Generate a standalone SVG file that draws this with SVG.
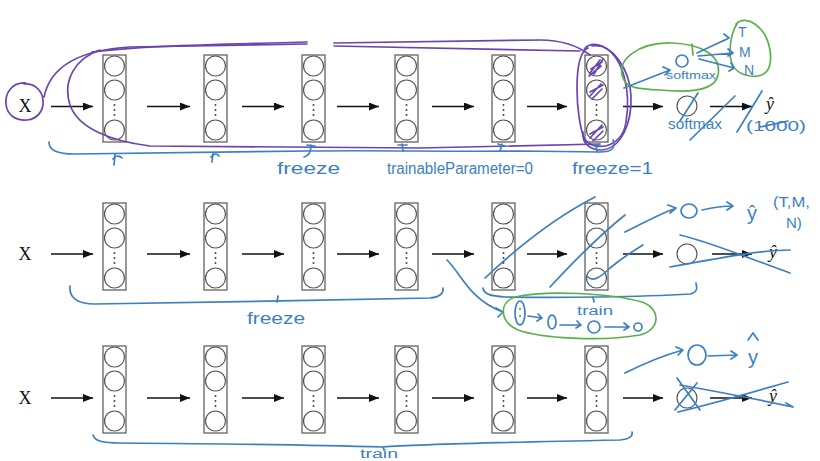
<svg xmlns="http://www.w3.org/2000/svg" xmlns:xlink="http://www.w3.org/1999/xlink" width="820" height="461" viewBox="0 0 820 461">
<style>
  .box{fill:none;stroke:#555;stroke-width:1.2}
  .neu{fill:#fff;stroke:#555;stroke-width:1.2}
  .dot{fill:#444}
  .arr{stroke:#111;stroke-width:1.6;fill:none}
  .lbl{font-family:"Liberation Serif",serif;font-size:18px;fill:#111}
  .yhat{font-family:"Liberation Serif",serif;font-style:italic;font-size:18px;fill:#111}
  .ink{fill:none;stroke-linecap:round;stroke-linejoin:round;stroke-width:1.7}
  .blue{stroke:#3d7fc2}
  .purple{stroke:#6a45b0}
  .green{stroke:#5bb04c}
  .hand{font-family:"Liberation Sans",sans-serif;fill:#3d7fc2}
</style>
<defs>
  <marker id="head" viewBox="0 0 10 8" refX="10" refY="4" markerWidth="10" markerHeight="8" markerUnits="userSpaceOnUse" orient="auto">
    <path d="M0,0 L10,4 L0,8 z" fill="#111"/>
  </marker>
  <g id="layer">
    <rect class="box" x="0" y="0" width="23" height="87"/>
    <circle class="neu" cx="11.5" cy="11" r="10"/>
    <circle class="neu" cx="11.5" cy="35" r="10"/>
    <circle class="neu" cx="11.5" cy="75" r="10"/>
    <circle class="dot" cx="11.5" cy="50" r="1"/>
    <circle class="dot" cx="11.5" cy="55" r="1"/>
    <circle class="dot" cx="11.5" cy="60" r="1"/>
  </g>
</defs>
<rect width="820" height="461" fill="#fff"/>

<!-- row 1 : network -->
<g id="r1-x"><text class="lbl" x="25" y="112" text-anchor="middle">X</text></g>
<g id="r1-l1"><use xlink:href="#layer" x="103" y="55"/></g>
<g id="r1-l2"><use xlink:href="#layer" x="204" y="55"/></g>
<g id="r1-l3"><use xlink:href="#layer" x="302" y="55"/></g>
<g id="r1-l4"><use xlink:href="#layer" x="395" y="55"/></g>
<g id="r1-l5"><use xlink:href="#layer" x="492" y="55"/></g>
<g id="r1-l6"><use xlink:href="#layer" x="585" y="55"/></g>
<g id="r1-out"><circle class="neu" cx="687" cy="106" r="10"/></g>
<g id="r1-yhat"><text class="yhat" x="770" y="110" text-anchor="middle">ŷ</text></g>

<!-- row 2 : network -->
<g id="r2-x"><text class="lbl" x="25" y="260" text-anchor="middle">X</text></g>
<g id="r2-l1"><use xlink:href="#layer" x="103" y="203"/></g>
<g id="r2-l2"><use xlink:href="#layer" x="204" y="203"/></g>
<g id="r2-l3"><use xlink:href="#layer" x="302" y="203"/></g>
<g id="r2-l4"><use xlink:href="#layer" x="395" y="203"/></g>
<g id="r2-l5"><use xlink:href="#layer" x="492" y="203"/></g>
<g id="r2-l6"><use xlink:href="#layer" x="585" y="203"/></g>
<g id="r2-out"><circle class="neu" cx="687" cy="254" r="10"/></g>
<g id="r2-yhat"><text class="yhat" x="773" y="258" text-anchor="middle">ŷ</text></g>

<!-- row 3 : network -->
<g id="r3-x"><text class="lbl" x="25" y="404" text-anchor="middle">X</text></g>
<g id="r3-l1"><use xlink:href="#layer" x="103" y="346"/></g>
<g id="r3-l2"><use xlink:href="#layer" x="204" y="346"/></g>
<g id="r3-l3"><use xlink:href="#layer" x="302" y="346"/></g>
<g id="r3-l4"><use xlink:href="#layer" x="395" y="346"/></g>
<g id="r3-l5"><use xlink:href="#layer" x="492" y="346"/></g>
<g id="r3-l6"><use xlink:href="#layer" x="585" y="346"/></g>
<g id="r3-out"><circle class="neu" cx="687" cy="398" r="10"/></g>
<g id="r3-yhat"><text class="yhat" x="773" y="402" text-anchor="middle">ŷ</text></g>

<!-- forward connectors -->
<g id="connectors">
  <path class="arr" marker-end="url(#head)" d="M51,106.5H93"/>
  <path class="arr" marker-end="url(#head)" d="M147,106.5H190"/>
  <path class="arr" marker-end="url(#head)" d="M242,106.5H284"/>
  <path class="arr" marker-end="url(#head)" d="M337,106.5H379"/>
  <path class="arr" marker-end="url(#head)" d="M432,106.5H474"/>
  <path class="arr" marker-end="url(#head)" d="M527,106.5H567"/>
  <path class="arr" marker-end="url(#head)" d="M623,106.5H663"/>
  <path class="arr" marker-end="url(#head)" d="M710,106.5H752"/>
  <path class="arr" marker-end="url(#head)" d="M51,254H93"/>
  <path class="arr" marker-end="url(#head)" d="M147,254H190"/>
  <path class="arr" marker-end="url(#head)" d="M242,254H284"/>
  <path class="arr" marker-end="url(#head)" d="M337,254H379"/>
  <path class="arr" marker-end="url(#head)" d="M432,254H474"/>
  <path class="arr" marker-end="url(#head)" d="M527,254H567"/>
  <path class="arr" marker-end="url(#head)" d="M623,254H663"/>
  <path class="arr" marker-end="url(#head)" d="M712,254H752"/>
  <path class="arr" marker-end="url(#head)" d="M51,398H93"/>
  <path class="arr" marker-end="url(#head)" d="M147,398H190"/>
  <path class="arr" marker-end="url(#head)" d="M242,398H284"/>
  <path class="arr" marker-end="url(#head)" d="M337,398H379"/>
  <path class="arr" marker-end="url(#head)" d="M432,398H474"/>
  <path class="arr" marker-end="url(#head)" d="M527,398H567"/>
  <path class="arr" marker-end="url(#head)" d="M623,398H663"/>
  <path class="arr" marker-end="url(#head)" d="M710,398H752"/>
</g>

<!-- row 1 ink: frozen part -->
<g id="r1-ink-purple">
  <path class="ink purple" d="M26,83 C12,82 5,93 6,104 C7,115 16,121 27,120 C38,119 44,110 43,100 C42,90 34,83 24,84"/>
  <path class="ink purple" d="M44,97 C50,68 78,50 130,47 L307,44"/>
  <path class="ink purple" d="M92,52 C140,46 200,45 307,42"/>
  <path class="ink purple" d="M334,43 L540,40 C562,40 578,46 590,55"/>
  <path class="ink purple" d="M334,46 L580,51"/>
  <path class="ink purple" d="M100,50 C76,58 62,80 70,105 C78,128 110,141 150,146 L420,148 L600,144"/>
  <path class="ink purple" d="M588,48 C572,55 576,118 584,138 C592,152 622,150 626,122 C631,92 624,56 602,46 C592,42 584,46 584,52"/>
  <path class="ink purple" d="M592,46 C612,42 630,70 631,96 C632,122 622,148 602,150 C588,150 582,142 583,132"/>
  <path class="ink purple" d="M590,73 L600,60 M591,69 L602,62 M589,76 L601,66 M603,59 L594,74"/>
  <path class="ink purple" d="M590,96 L601,84 M590,92 L603,85 M592,99 L602,89"/>
  <path class="ink purple" d="M590,138 L602,125 M590,134 L603,127 M593,141 L603,131"/>
</g>
<g id="r1-ink-blue">
  <path class="ink blue" d="M49,142 C49,150 56,154 75,154 C180,153 260,151 310,151 C380,150 450,152 520,151 L600,152 C612,152 616,148 613,140"/>
  <path class="ink blue" d="M115,154 L114,165 M113,159 C115,156 119,155 122,158"/>
  <path class="ink blue" d="M213,153 L212,162 M211,157 C213,154 217,153 219,156"/>
  <path class="ink blue" d="M304,157 C309,156 311,152 311,145 M307,145 L315,146"/>
  <path class="ink blue" d="M403,151 L402,144 M398,145 L407,145"/>
  <path class="ink blue" d="M500,151 L502,144 M498,144 L505,146"/>
  <path class="ink blue" d="M597,152 L596,145 M593,145 L601,146"/>
  <text class="hand" x="277" y="174" font-size="17" textLength="63" lengthAdjust="spacingAndGlyphs">freeze</text>
  <text class="hand" x="387" y="174" font-size="16" textLength="146" lengthAdjust="spacingAndGlyphs">trainableParameter=0</text>
  <text class="hand" x="572" y="174" font-size="17" textLength="81" lengthAdjust="spacingAndGlyphs">freeze=1</text>
</g>
<!-- row 1 ink: new softmax head -->
<g id="r1-ink-head">
  <path class="ink green" d="M624,80 C613,60 640,42 672,43 C702,44 722,56 718,75 C715,91 690,93 660,90 C640,89 627,88 624,80"/>
  <path class="ink green" d="M693,55 L692,44"/>
  <path class="ink green" d="M736,24 C746,14 766,26 770,50 C773,70 765,78 750,76 C738,74 730,68 730,52 C730,40 732,31 738,22"/>
  <ellipse class="ink blue" cx="682" cy="61" rx="6" ry="6"/>
  <text class="hand" x="666" y="79" font-size="10" textLength="50" lengthAdjust="spacingAndGlyphs">softmax</text>
  <path class="ink blue" d="M624,88 L670,70 M663,67 L670,70 L665,75"/>
  <path class="ink blue" d="M697,53 L729,38 M724,34 L729,38 L723,41"/>
  <path class="ink blue" d="M698,56 L733,53 M728,49 L733,53 L728,56"/>
  <path class="ink blue" d="M699,59 L734,68 M731,63 L734,68 L729,71"/>
  <text class="hand" x="738" y="37" font-size="14">T</text>
  <text class="hand" x="739" y="57" font-size="14">M</text>
  <text class="hand" x="744" y="75" font-size="14">N</text>
</g>
<g id="r1-ink-strike">
  <path class="ink blue" d="M698,93 L680,121"/>
  <text class="hand" x="668" y="129" font-size="14" textLength="54" lengthAdjust="spacingAndGlyphs">softmax</text>
  <path class="ink blue" d="M690,140 L735,96"/>
  <path class="ink blue" d="M737,132 L762,91"/>
  <text class="hand" x="746" y="131" font-size="14" textLength="60" lengthAdjust="spacingAndGlyphs">(1000)</text>
  <path class="ink blue" d="M760,127 L788,121"/>
</g>

<!-- row 2 ink -->
<g id="r2-ink">
  <path class="ink blue" d="M70,286 C69,297 76,304 95,304 C200,303 320,300 430,298 C440,297 444,293 443,288"/>
  <path class="ink blue" d="M277,302 L278,296"/>
  <text class="hand" x="247" y="324" font-size="16" textLength="58" lengthAdjust="spacingAndGlyphs">freeze</text>
  <path class="ink blue" d="M485,278 C520,245 560,215 595,197"/>
  <path class="ink blue" d="M550,287 C575,260 600,235 625,215"/>
  <path class="ink blue" d="M588,277 C592,282 600,278 610,268 C622,258 633,251 643,245"/>
  <path class="ink blue" d="M625,232 C643,223 660,214 676,208 M668,205 L676,208 L670,213"/>
  <ellipse class="ink blue" cx="689" cy="211" rx="8" ry="7"/>
  <path class="ink blue" d="M702,210 C715,207 725,206 733,206 M727,202 L733,206 L727,210"/>
  <text class="hand" x="752" y="220" font-size="20" text-anchor="middle">ŷ</text>
  <text class="hand" x="773" y="207" font-size="15" textLength="37" lengthAdjust="spacingAndGlyphs">(T,M,</text>
  <text class="hand" x="786" y="228" font-size="15">N)</text>
  <path class="ink blue" d="M680,235 C710,242 740,255 790,273"/>
  <path class="ink blue" d="M670,267 C720,258 760,250 790,250"/>
  <path class="ink blue" d="M483,288 C484,294 490,296 505,297 C560,298 640,297 690,294 C698,292 697,288 696,283"/>
  <path class="ink blue" d="M593,297 L594,302"/>
  <path class="ink blue" d="M447,260 C462,275 470,300 503,312 M496,308 L503,312 L498,317"/>
  <path class="ink green" d="M515,297 C545,290 610,293 642,302 C662,309 660,330 640,335 C600,342 540,338 518,330 C500,322 498,303 515,297"/>
  <ellipse class="ink blue" cx="520" cy="313" rx="5" ry="12"/>
  <circle cx="520" cy="309" r="1" fill="#3d7fc2"/><circle cx="520" cy="316" r="1" fill="#3d7fc2"/>
  <path class="ink blue" d="M528,316 L542,318 M538,314 L542,318 L537,321"/>
  <ellipse class="ink blue" cx="552" cy="322" rx="4" ry="7"/>
  <path class="ink blue" d="M560,325 L581,325 M577,321 L581,325 L576,328"/>
  <circle class="ink blue" cx="594" cy="327" r="6"/>
  <path class="ink blue" d="M605,327 L629,327 M624,323 L629,327 L624,330"/>
  <circle class="ink blue" cx="638" cy="327" r="4"/>
  <text class="hand" x="577" y="315" font-size="12" textLength="36" lengthAdjust="spacingAndGlyphs">train</text>
</g>

<!-- row 3 ink -->
<g id="r3-ink">
  <path class="ink blue" d="M93,435 C95,441 102,443 120,443 C250,444 350,446 383,447 C420,444 520,442 620,440 C630,439 633,436 632,432"/>
  <path class="ink blue" d="M383,447 L384,450"/>
  <text class="hand" x="360" y="458" font-size="12" textLength="38" lengthAdjust="spacingAndGlyphs">train</text>
  <path class="ink blue" d="M625,373 C645,363 665,355 683,350 M676,347 L683,350 L678,355"/>
  <ellipse class="ink blue" cx="697" cy="355" rx="9" ry="10"/>
  <path class="ink blue" d="M708,356 L737,355 M731,351 L737,355 L731,359"/>
  <text class="hand" x="753" y="364" font-size="20" text-anchor="middle">y</text>
  <path class="ink blue" d="M748,340 L753,333 L758,340"/>
  <path class="ink blue" d="M677,378 L700,410 M675,410 L697,383"/>
  <path class="ink blue" d="M680,385 C720,392 760,400 793,407 M786,403 L793,407"/>
  <path class="ink blue" d="M678,412 C720,402 760,390 788,382"/>
</g>
</svg>
